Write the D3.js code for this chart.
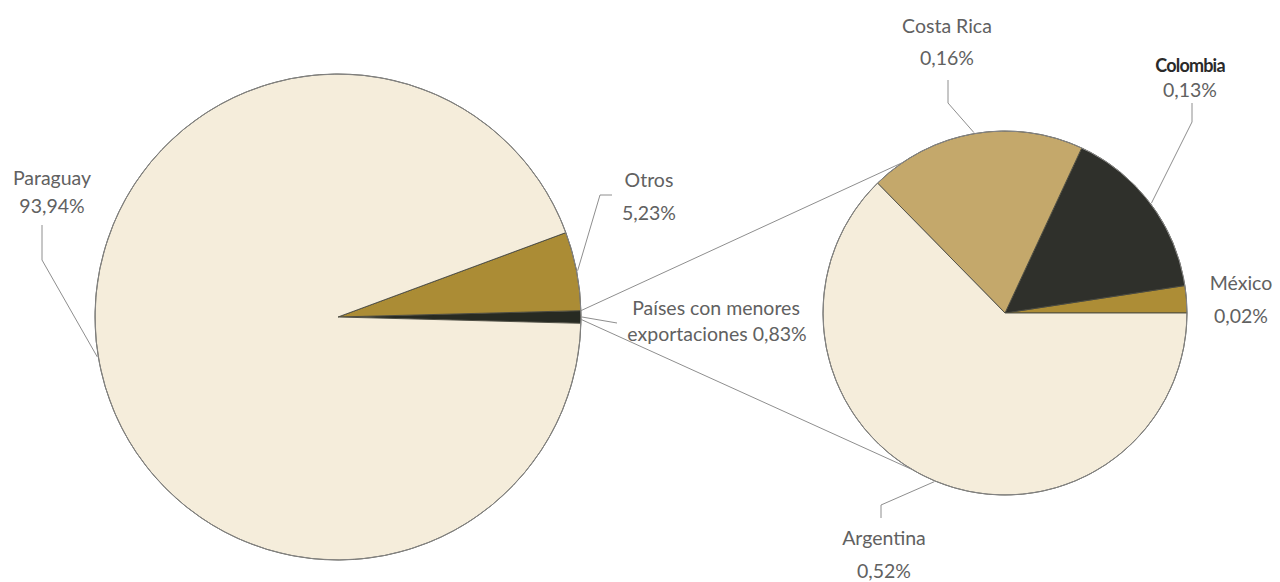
<!DOCTYPE html>
<html>
<head>
<meta charset="utf-8">
<script src="https://cdn.jsdelivr.net/npm/d3@7"></script>
<style>
  html, body { margin: 0; padding: 0; background: #ffffff; }
  svg { display: block; }
  text { font-family: Lato, "Open Sans", sans-serif; fill: #616161; }
</style>
</head>
<body>
<svg id="chart" width="1280" height="582"></svg>
<script>
// ---- data ----
const mainLabels = ["Países con menores exportaciones", "Otros", "Paraguay"];
const mainValues = [0.83, 5.23, 93.94];
const detailLabels = ["México", "Colombia", "Costa Rica", "Argentina"];
const detailValues = [0.02, 0.13, 0.16, 0.52];

// ---- styling / layout ----
const mainColors = ["#272a22", "#ab8c35", "#f5eddb"];
const detailColors = ["#ad8d36", "#2f302b", "#c4a86b", "#f5eddb"];

const fmt = v => d3.format(".2f")(v).replace(".", ",");

const svg = d3.select("#chart");

const mainPie = { cx: 338, cy: 317, r: 243 };
const detPie = { cx: 1005, cy: 313, r: 182 };

// Left pie: small slice centered on the east direction, going counter-clockwise
const mainHalf = Math.PI * mainValues[0] / d3.sum(mainValues);
const mainArcs = d3.pie().sort(null)
  .startAngle(Math.PI / 2 + mainHalf)
  .endAngle(Math.PI / 2 + mainHalf - 2 * Math.PI)(mainValues);

const detArcs = d3.pie().sort(null)
  .startAngle(Math.PI / 2)
  .endAngle(Math.PI / 2 - 2 * Math.PI)(detailValues);

function drawPie(arcs, colors, p) {
  const g = svg.append("g").attr("transform", `translate(${p.cx},${p.cy})`);
  const arc = d3.arc().innerRadius(0).outerRadius(p.r);
  g.selectAll("path").data(arcs).join("path")
    .attr("d", arc)
    .attr("fill", (d, i) => colors[i])
    .attr("stroke", "#4a4a40")
    .attr("stroke-width", 0.9)
    .attr("stroke-linejoin", "round");
  g.append("circle").attr("r", p.r).attr("fill", "none")
    .attr("stroke", "#858585").attr("stroke-width", 1);
  return g;
}

// point on circle at d3 angle a
function pt(p, a, r) {
  return [p.cx + (r || p.r) * Math.sin(a), p.cy - (r || p.r) * Math.cos(a)];
}
const mid = d => (d.startAngle + d.endAngle) / 2;

const lineCol = "#8e8e8e";

drawPie(mainArcs, mainColors, mainPie);
drawPie(detArcs, detailColors, detPie);

// connector lines between pies
const small = mainArcs[0];
const cTop = pt(mainPie, small.endAngle);
const cBot = pt(mainPie, small.startAngle);
const dTop = pt(detPie, -Math.PI * 0.19);
const dBot = pt(detPie, Math.PI * 1.17);
svg.append("line").attr("x1", cTop[0]).attr("y1", cTop[1]).attr("x2", dTop[0]).attr("y2", dTop[1])
  .attr("stroke", lineCol).attr("stroke-width", 1);
svg.append("line").attr("x1", cBot[0]).attr("y1", cBot[1] - 4).attr("x2", dBot[0]).attr("y2", dBot[1])
  .attr("stroke", lineCol).attr("stroke-width", 1);

// label layout (positions only)
const mainLayout = [
  { elbow: [[617, 323]], lines: [[716, 315], [717, 341]], split: true },
  { elbow: [[600, 195], [612, 195]], lines: [[649, 187], [649, 220]] },
  { elbow: [[42, 260], [42, 225]], lines: [[52, 185], [52, 213]] }
];
const detLayout = [
  { elbow: null, lines: [[1241, 290], [1241, 323]] },
  { elbow: [[1192, 122], [1192, 103]], lines: [[1190, 72], [1190, 97]], bold: true },
  { elbow: [[948, 103], [948, 80]], lines: [[947, 33], [947, 65]] },
  { elbow: [[881, 505], [881, 518]], lines: [[884, 545], [884, 578]] }
];

function drawLabels(arcs, labels, values, layout, p) {
  arcs.forEach((d, i) => {
    const L = layout[i];
    if (L.elbow) {
      const start = pt(p, mid(d), p.r + 1);
      const pts = [start].concat(L.elbow);
      svg.append("path").attr("d", d3.line()(pts))
        .attr("fill", "none").attr("stroke", lineCol).attr("stroke-width", 1);
    }
    let t1, t2;
    if (L.split) {
      const words = labels[i].split(" ");
      t1 = words.slice(0, 3).join(" ");
      t2 = words.slice(3).join(" ") + " " + fmt(values[i]) + "%";
    } else {
      t1 = labels[i];
      t2 = fmt(values[i]) + "%";
    }
    svg.append("text").attr("x", L.lines[0][0]).attr("y", L.lines[0][1])
      .attr("text-anchor", "middle")
      .style("font-size", L.bold ? "18px" : "19.5px")
      .style("font-weight", L.bold ? 700 : 400)
      .style("letter-spacing", L.bold ? "-0.8px" : "0px")
      .style("fill", L.bold ? "#2a2a2a" : null)
      .text(t1);
    svg.append("text").attr("x", L.lines[1][0]).attr("y", L.lines[1][1])
      .attr("text-anchor", "middle")
      .style("font-size", "19.5px")
      .text(t2);
  });
}

drawLabels(mainArcs, mainLabels, mainValues, mainLayout, mainPie);
drawLabels(detArcs, detailLabels, detailValues, detLayout, detPie);
</script>
</body>
</html>
